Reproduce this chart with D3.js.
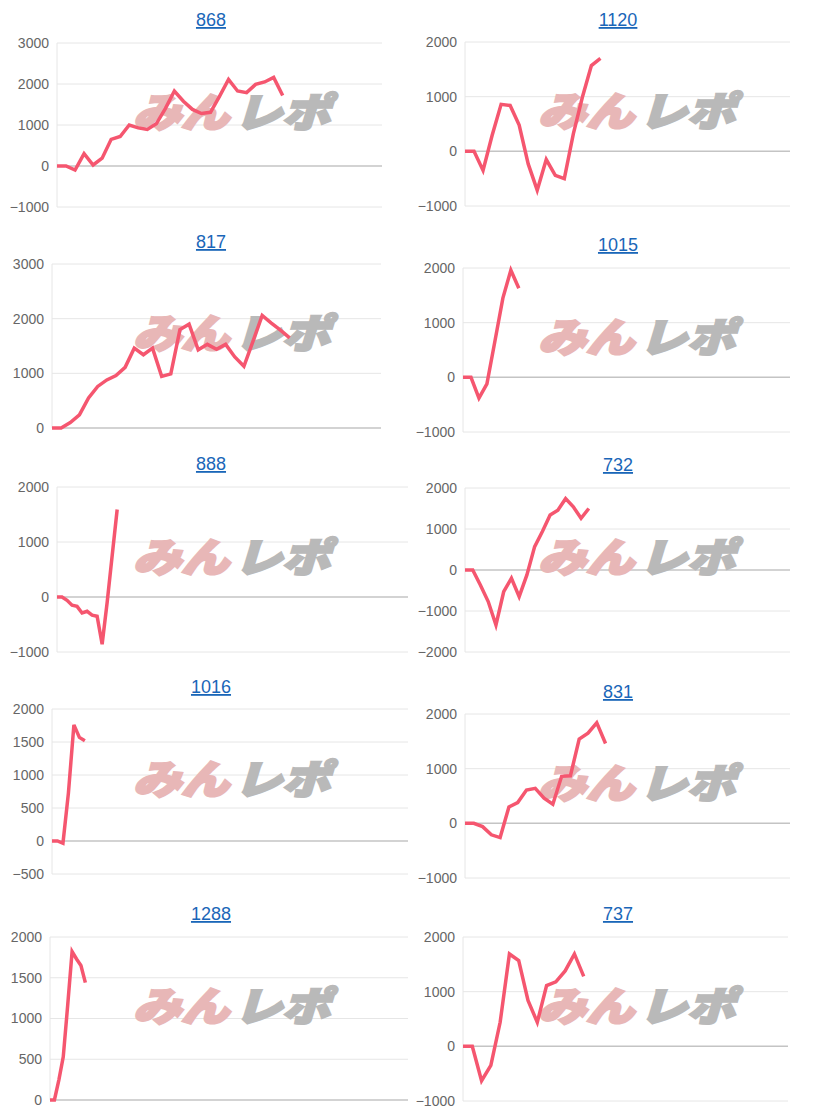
<!DOCTYPE html>
<html><head><meta charset="utf-8">
<script src="https://cdn.jsdelivr.net/npm/d3@7"></script>
<style>
body{margin:0;background:#fff;font-family:"Liberation Sans",Arial,sans-serif;}
</style></head>
<body>
<svg id="chart" width="816" height="1115"></svg>
<script>
// data
var titles = ["868","1120","817","1015","888","732","1016","831","1288","737"];
var v868  = [0,0,-100,300,25,190,650,720,1000,930,890,1030,1400,1830,1580,1380,1280,1310,1700,2110,1830,1790,1990,2050,2160,1720];
var v1120 = [0,0,-350,290,860,840,480,-230,-710,-150,-440,-500,320,990,1570,1700];
var v817  = [0,0,100,240,550,760,880,960,1110,1460,1340,1460,945,990,1800,1900,1430,1530,1440,1530,1300,1130,1590,2060,1920,1790,1650];
var v1015 = [0,0,-380,-120,660,1450,1960,1630];
var v888  = [0,0,-60,-150,-170,-290,-260,-330,-350,-860,-100,750,1590];
var v732  = [0,0,-370,-770,-1340,-530,-200,-650,-120,570,940,1340,1460,1740,1540,1260,1500];
var v1016 = [0,0,-35,730,1760,1570,1520];
var v831  = [0,0,-60,-210,-260,300,380,610,640,460,350,860,870,1540,1650,1840,1460];
var v1288 = [0,0,245,530,1160,1820,1730,1650,1440];
var v737  = [0,0,-630,-350,440,1690,1570,840,440,1110,1180,1380,1690,1280];
var seriesList = [v868,v1120,v817,v1015,v888,v732,v1016,v831,v1288,v737];
var yTicks = [
  [-1000,0,1000,2000,3000],[-1000,0,1000,2000],
  [0,1000,2000,3000],[-1000,0,1000,2000],
  [-1000,0,1000,2000],[-2000,-1000,0,1000,2000],
  [-500,0,500,1000,1500,2000],[-1000,0,1000,2000],
  [0,500,1000,1500,2000],[-1000,0,1000,2000]
];

// layout of each small panel
var boxes = [
  {x0:57,x1:382,top:43,bottom:207,slots:36,ty:20},
  {x0:465,x1:790,top:42,bottom:206,slots:36,ty:20},
  {x0:52,x1:381,top:264,bottom:428,slots:36,ty:242},
  {x0:463,x1:790,top:268,bottom:432,slots:41,ty:245},
  {x0:57,x1:408,top:487,bottom:652,slots:70,ty:464},
  {x0:465,x1:790,top:488,bottom:652,slots:42,ty:465},
  {x0:52,x1:408,top:709,bottom:874,slots:65,ty:687},
  {x0:465,x1:790,top:714,bottom:878,slots:37,ty:692},
  {x0:50,x1:408,top:937,bottom:1100,slots:81,ty:914},
  {x0:463,x1:788,top:937,bottom:1101,slots:35,ty:914}
];

var svg = d3.select("#chart");

boxes.forEach(function(b, i){
  var vals = seriesList[i], ticks = yTicks[i];
  var x = d3.scaleLinear().domain([0, b.slots]).range([b.x0, b.x1]);
  var y = d3.scaleLinear().domain(d3.extent(ticks)).range([b.bottom, b.top]);
  var g = svg.append("g");

  // grid
  g.selectAll("line.grid").data(ticks).enter().append("line")
    .attr("x1", b.x0).attr("x2", b.x1)
    .attr("y1", d => y(d)).attr("y2", d => y(d))
    .attr("stroke", d => d === 0 ? "#c4c4c4" : "#e6e6e6")
    .attr("stroke-width", d => d === 0 ? 1.5 : 1);
  g.append("line").attr("x1", b.x0).attr("x2", b.x0)
    .attr("y1", b.top).attr("y2", b.bottom)
    .attr("stroke", "#e6e6e6");

  var axis = d3.axisLeft(y).tickValues(ticks).tickSize(0).tickPadding(8).tickFormat(d3.format("d"));
  var ax = g.append("g").attr("transform", "translate(" + b.x0 + ",0)").call(axis);
  ax.select(".domain").remove();
  ax.selectAll("text").attr("fill", "#666").style("font-size", "14px")
    .style("font-family", '"Liberation Sans",Arial,sans-serif');

  // watermark
  var left = i % 2 === 0 ? 133 : 538;
  var cy = (b.top + b.bottom) / 2 + 2;
  var wm = g.append("text").attr("x", left).attr("y", cy)
    .style("font-family", '"Noto Sans CJK JP",sans-serif')
    .style("font-weight", "900").style("font-style", "italic")
    .style("font-size", "40px").attr("stroke-width", 2.5);
  wm.append("tspan").attr("fill", "#e8b7b7").attr("stroke", "#e8b7b7").text("みん");
  wm.append("tspan").attr("fill", "#b9b9b9").attr("stroke", "#b9b9b9").attr("dx", 4).text("レポ");
  wm.attr("textLength", 197).attr("lengthAdjust", "spacingAndGlyphs");

  // line
  var line = d3.line().x((d, k) => x(k)).y(d => y(d));
  g.append("path").datum(vals).attr("d", line)
    .attr("fill", "none").attr("stroke", "#f5566f")
    .attr("stroke-width", 3.5).attr("stroke-linejoin", "miter");

  // title
  g.append("text").attr("x", i % 2 === 0 ? 211 : 618).attr("y", b.ty + 6)
    .attr("text-anchor", "middle").attr("fill", "#1a66b8")
    .style("font-size", "18px").style("text-decoration", "underline")
    .text(titles[i]);
});
</script>
</body></html>
